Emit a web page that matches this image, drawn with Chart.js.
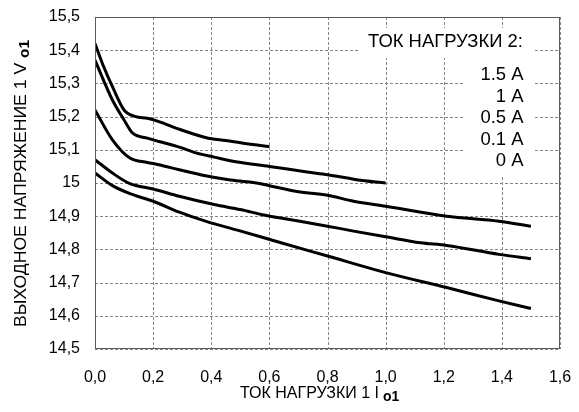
<!DOCTYPE html>
<html>
<head>
<meta charset="utf-8">
<script src="https://cdn.jsdelivr.net/npm/chart.js@4.4.1/dist/chart.umd.min.js"></script>
<style>
html,body{margin:0;padding:0;background:#fff;}
#wrap{width:579px;height:412px;}
</style>
</head>
<body>
<div id="wrap"><canvas id="c" width="579" height="412"></canvas></div>
<script>
// ---- data ----
const seriesNames = ['1.5 A', '1 A', '0.5 A', '0.1 A', '0 A'];
const legendTitle = 'ТОК НАГРУЗКИ 2:';
const xTitle = 'ТОК НАГРУЗКИ 1 I';
const xTitleSub = 'o1';
const yTitle = 'ВЫХОДНОЕ НАПРЯЖЕНИЕ 1 V ';
const yTitleSub = 'o1';

const x15 = [0, 0.03, 0.06, 0.10, 0.14, 0.18, 0.22, 0.29, 0.39, 0.45, 0.51, 0.60];
const y15 = [15.42, 15.35, 15.29, 15.22, 15.20, 15.195, 15.185, 15.162, 15.135, 15.128, 15.12, 15.11];

const x10 = [0, 0.06, 0.10, 0.13, 0.18, 0.22, 0.29, 0.35, 0.41, 0.49, 0.60, 0.73, 0.80, 0.90, 1.00];
const y10 = [15.37, 15.25, 15.19, 15.15, 15.135, 15.125, 15.108, 15.09, 15.078, 15.063, 15.05, 15.033, 15.025, 15.01, 15.00];

const x05 = [0, 0.06, 0.12, 0.18, 0.22, 0.29, 0.38, 0.46, 0.54, 0.60, 0.69, 0.80, 0.89, 1.00, 1.21, 1.39, 1.50];
const y05 = [15.22, 15.13, 15.075, 15.062, 15.055, 15.04, 15.022, 15.01, 15.002, 14.992, 14.975, 14.963, 14.945, 14.93, 14.90, 14.885, 14.87];

const x01 = [0, 0.06, 0.12, 0.20, 0.29, 0.41, 0.50, 0.59, 0.69, 0.80, 0.89, 1.00, 1.12, 1.21, 1.39, 1.50];
const y01 = [15.07, 15.03, 14.998, 14.982, 14.96, 14.935, 14.92, 14.902, 14.887, 14.87, 14.855, 14.838, 14.82, 14.812, 14.785, 14.772];

const x00 = [0, 0.06, 0.12, 0.20, 0.29, 0.38, 0.49, 0.64, 0.80, 1.00, 1.21, 1.39, 1.50];
const y00 = [15.03, 14.992, 14.968, 14.945, 14.912, 14.885, 14.858, 14.82, 14.78, 14.73, 14.685, 14.645, 14.622];

const xTickMin = 0, xTickMax = 1.6, xStep = 0.2;
const yTickMin = 14.5, yTickMax = 15.5, yStep = 0.1;

// ---- build ----
function pts(xs, ys){ return xs.map((x,i)=>({x:x, y:ys[i]})); }
const allX = [x15, x10, x05, x01, x00];
const allY = [y15, y10, y05, y01, y00];

const FONT = '"Liberation Sans", Arial, sans-serif';
const GRID = '#858585';
const DASH = [3, 2];

const datasets = allX.map((xs, i) => ({
  label: seriesNames[i],
  data: pts(xs, allY[i]),
  borderColor: '#000',
  borderWidth: 3,
  pointRadius: 0,
  fill: false,
  cubicInterpolationMode: 'monotone',
  borderCapStyle: 'butt',
  borderJoinStyle: 'round'
}));

const decor = {
  id: 'decor',
  beforeDraw(chart){
    const ctx = chart.ctx;
    ctx.save();
    ctx.fillStyle = '#fff';
    ctx.fillRect(0,0,chart.width,chart.height);
    ctx.restore();
  },
  beforeDatasetsDraw(chart){
    // dashed grid from the library's own scale ticks
    const ctx = chart.ctx;
    const a = chart.chartArea;
    const xs = chart.scales.x, ys = chart.scales.y;
    ctx.save();
    ctx.strokeStyle = GRID;
    ctx.lineWidth = 1;
    ctx.setLineDash(DASH);
    xs.ticks.forEach(t => {
      const p = Math.round(xs.getPixelForValue(t.value)) + 0.5;
      ctx.beginPath(); ctx.moveTo(p, a.top); ctx.lineTo(p, a.bottom); ctx.stroke();
    });
    ys.ticks.forEach(t => {
      const p = Math.round(ys.getPixelForValue(t.value)) + 0.5;
      ctx.beginPath(); ctx.moveTo(a.left, p); ctx.lineTo(a.right, p); ctx.stroke();
    });
    ctx.restore();
  },
  afterDraw(chart){
    const ctx = chart.ctx;
    const a = chart.chartArea;
    ctx.save();
    // legend text boxes (white, hide the grid behind)
    ctx.fillStyle = '#fff';
    ctx.fillRect(358, 28, 177, 30);
    ctx.fillRect(463, 58, 72, 117);

    // plot border
    ctx.setLineDash([]);
    ctx.strokeStyle = '#5a5a5a';
    ctx.lineWidth = 1;
    ctx.strokeRect(Math.round(a.left)+0.5, Math.round(a.top)+0.5, Math.round(a.right-a.left)-1, Math.round(a.bottom-a.top)-1);

    ctx.fillStyle = '#000';
    ctx.textBaseline = 'middle';
    ctx.textAlign = 'left';
    ctx.font = '18px ' + FONT;
    const lw = ctx.measureText(legendTitle).width;
    const lsize = 18 * 155 / lw;
    ctx.font = lsize.toFixed(2) + 'px ' + FONT;
    ctx.fillText(legendTitle, 368, 42);
    ctx.textAlign = 'right';
    const ly = [75, 96.5, 118, 139.5, 161];
    seriesNames.forEach((n,i)=>ctx.fillText(n, 523.5, ly[i]));

    // x title
    const mainF = '16px ' + FONT, subF = 'bold 14px ' + FONT;
    ctx.textAlign = 'left';
    ctx.font = mainF; const w1 = ctx.measureText(xTitle).width;
    let sx = 240;
    ctx.font = mainF; ctx.fillText(xTitle, sx, 394);
    ctx.font = subF; ctx.fillText(xTitleSub, sx + w1 + 4, 397);

    // y title
    ctx.translate(21.5, 183.5);
    ctx.rotate(-Math.PI/2);
    ctx.font = mainF; const v1 = ctx.measureText(yTitle).width;
    ctx.font = subF; const v2 = ctx.measureText(yTitleSub).width;
    const k = 287 / (v1 + v2);
    ctx.scale(k, 1);
    sx = -(v1 + v2)/2;
    ctx.font = mainF; ctx.fillText(yTitle, sx, 0);
    ctx.font = subF; ctx.fillText(yTitleSub, sx + v1, 4);
    ctx.restore();
  }
};

new Chart(document.getElementById('c'), {
  type: 'line',
  data: { datasets },
  options: {
    responsive: false,
    animation: false,
    devicePixelRatio: 1,
    layout: { padding: { left: 0, right: 19, top: 17, bottom: 0 } },
    plugins: { legend: { display: false }, tooltip: { enabled: false }, title: { display: false } },
    scales: {
      x: {
        type: 'linear',
        min: xTickMin, max: xTickMax,
        ticks: {
          stepSize: xStep,
          color: '#000',
          font: { family: FONT, size: 16 },
          padding: 19,
          maxRotation: 0,
          callback: v => (Math.round(v*10)/10).toFixed(1).replace('.', ',')
        },
        grid: { display: false, drawTicks: false },
        border: { display: false },
        afterFit: s => { s.height = 412 - 349; s.paddingLeft = 0; s.paddingRight = 0; }
      },
      y: {
        type: 'linear',
        min: yTickMin, max: yTickMax,
        ticks: {
          stepSize: yStep,
          color: '#000',
          font: { family: FONT, size: 16 },
          padding: 15,
          callback: v => String(Math.round(v*10)/10).replace('.', ',')
        },
        grid: { display: false, drawTicks: false },
        border: { display: false },
        afterFit: s => { s.width = 95; s.paddingTop = 0; s.paddingBottom = 0; }
      }
    }
  },
  plugins: [decor]
});
</script>
</body>
</html>
